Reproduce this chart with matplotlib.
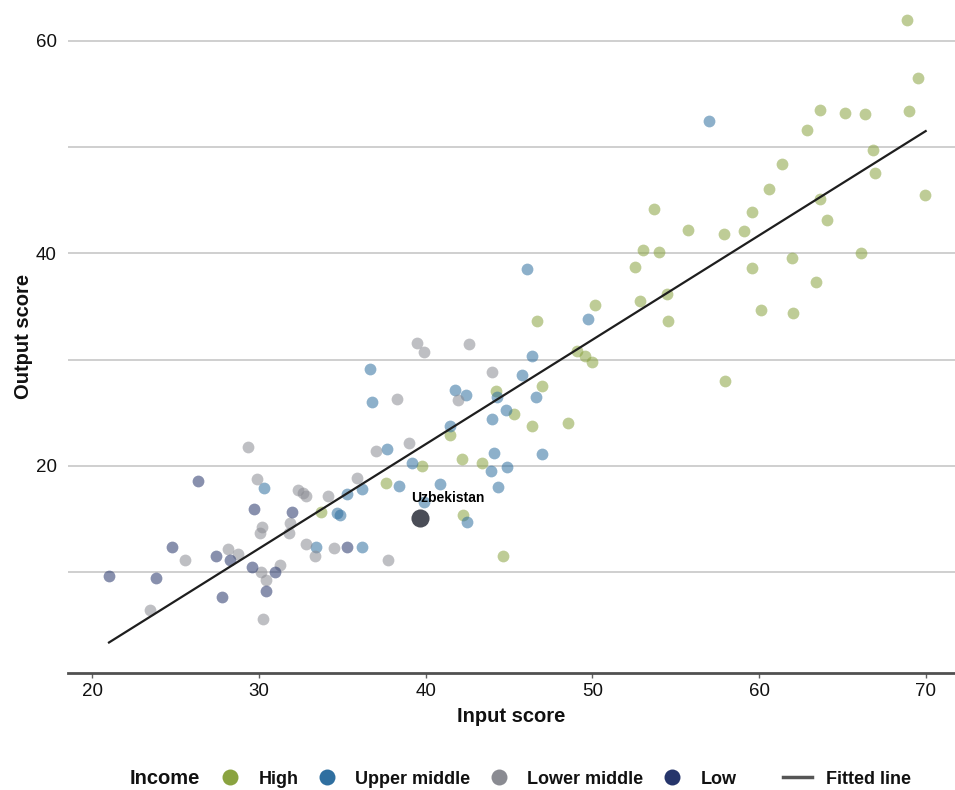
import matplotlib
matplotlib.use("Agg")
import matplotlib.pyplot as plt
from matplotlib.lines import Line2D

plt.rcParams['font.family'] = ['Liberation Sans', 'DejaVu Sans']

# ---- data ----
high_x = [68.86, 69.56, 63.66, 65.16, 66.36, 69.0, 62.9, 66.86, 66.96, 61.36, 60.6, 69.96,
          53.7, 63.66, 59.58, 64.06, 55.75, 57.9, 59.1, 53.05, 54.0, 66.1, 52.55, 59.58,
          61.96, 63.4, 52.85, 54.5, 54.56, 50.15, 60.1, 62.05, 49.05, 49.55, 50.0, 57.95,
          46.65, 44.2, 46.95, 45.3, 46.4, 48.55, 41.45, 42.2, 43.4, 39.75, 37.6, 42.25,
          44.65, 33.74]
high_y = [61.95, 56.5, 53.5, 53.2, 53.1, 53.4, 51.6, 49.7, 47.6, 48.4, 46.05, 45.5,
          44.2, 45.1, 43.85, 43.1, 42.2, 41.8, 42.1, 40.3, 40.1, 40.06, 38.7, 38.6,
          39.6, 37.3, 35.5, 36.2, 33.6, 35.1, 34.7, 34.35, 30.8, 30.3, 29.8, 28.0,
          33.6, 27.06, 27.5, 24.9, 23.8, 24.0, 22.9, 20.7, 20.25, 20.0, 18.4, 15.4,
          11.5, 15.7]

upper_x = [57.0, 46.1, 49.75, 46.35, 45.75, 36.65, 36.78, 41.75, 42.4, 44.25, 46.6, 44.8,
           43.95, 41.45, 37.7, 44.1, 46.95, 39.2, 43.9, 44.85, 38.4, 40.85, 44.35, 30.28,
           35.28, 36.15, 34.65, 34.84, 33.44, 36.15, 42.45, 39.9]
upper_y = [52.45, 38.5, 33.8, 30.3, 28.6, 29.1, 26.0, 27.15, 26.7, 26.5, 26.5, 25.3,
           24.4, 23.8, 21.6, 21.25, 21.1, 20.3, 19.5, 19.95, 18.1, 18.3, 18.05, 17.9,
           17.4, 17.8, 15.6, 15.4, 12.35, 12.35, 14.7, 16.6]

lower_x = [29.34, 37.0, 39.0, 29.9, 32.34, 32.64, 32.84, 34.14, 35.9, 30.2, 30.04, 31.84,
           31.8, 25.54, 28.14, 28.74, 32.8, 33.34, 34.48, 37.74, 30.14, 30.44, 31.24, 23.48,
           30.24, 39.48, 39.88, 42.58, 43.95, 38.28, 41.95]
lower_y = [21.8, 21.4, 22.2, 18.8, 17.7, 17.5, 17.2, 17.2, 18.9, 14.3, 13.7, 14.6,
           13.7, 11.2, 12.2, 11.7, 12.7, 11.5, 12.3, 11.2, 10.05, 9.3, 10.7, 6.45,
           5.6, 31.6, 30.7, 31.45, 28.8, 26.3, 26.2]

low_x = [26.34, 29.68, 32.0, 24.8, 27.44, 28.24, 35.28, 21.0, 23.8, 29.6, 30.94, 27.8, 30.44]
low_y = [18.6, 16.0, 15.7, 12.4, 11.5, 11.2, 12.4, 9.7, 9.5, 10.5, 10.05, 7.65, 8.2]

fit_x = [21.0, 70.0]
fit_y = [3.4, 51.5]

highlight_name = "Uzbekistan"
highlight_x = [39.65]
highlight_y = [15.1]

categories = ["High", "Upper middle", "Lower middle", "Low"]
colors = ["#8aa340", "#2f6fa0", "#8a8b92", "#26356b"]
xticks = [20, 30, 40, 50, 60, 70]
yticks_major = [20, 40, 60]
yticks_minor = [10, 30, 50]

# ---- figure ----
W, H = 955, 790
fig = plt.figure(figsize=(W / 100, H / 100), dpi=100)
ax = fig.add_axes([68 / W, 117 / H, 887 / W, 673 / H])

series = [(high_x, high_y), (upper_x, upper_y), (lower_x, lower_y), (low_x, low_y)]
for (sx, sy), c in zip(series, colors):
    ax.scatter(sx, sy, s=72, color=c, alpha=0.55, linewidths=0, zorder=3)

ax.plot(fit_x, fit_y, color="#1e1e1e", lw=1.6, zorder=4)

ax.scatter(highlight_x, highlight_y, s=170, color="#4a4d57", linewidths=0, zorder=5)
ann = ax.annotate(highlight_name, (highlight_x[0], highlight_y[0]), xytext=(20.5, 14.5),
                  textcoords="offset points", ha="center", va="center",
                  fontsize=10, fontweight="bold", color="black", zorder=6)

ax.set_xlim(18.54, 71.76)
ax.set_ylim(0.53, 63.83)

ax.set_xticks(xticks)
ax.set_xticklabels([str(v) for v in xticks])
ax.set_yticks(yticks_major)
ax.set_yticklabels([str(v) for v in yticks_major])
ax.set_yticks(yticks_minor, minor=True)

ax.grid(axis="y", which="both", color="#cfcfcf", lw=1.4, zorder=0)
ax.set_axisbelow(True)

for s in ["left", "right", "top"]:
    ax.spines[s].set_visible(False)
ax.spines["bottom"].set_color("#505050")
ax.spines["bottom"].set_linewidth(2.0)

ax.tick_params(axis="x", length=3.5, width=1.0, color="#606060", pad=4,
               labelsize=13.5, labelcolor="#111111")
ax.tick_params(axis="y", which="both", length=0, pad=8, labelsize=13.5,
               labelcolor="#111111")

ax.set_xlabel("Input score", fontsize=14.5, fontweight="bold", color="#111111", labelpad=5)
ax.set_ylabel("Output score", fontsize=14.5, fontweight="bold", color="#111111", labelpad=2)

# ---- legend ----
ly = 1 - 779 / H
fig.text(130 / W, ly, "Income", fontsize=14.5, fontweight="bold", color="#111111",
         ha="left", va="center")
handles = [Line2D([0], [0], marker="o", linestyle="none", markersize=11.5,
                  markerfacecolor=c, markeredgewidth=0) for c in colors]
leg1 = fig.legend(handles, categories, loc="center left",
                  bbox_to_anchor=(216 / W, ly), ncol=4, frameon=False,
                  fontsize=13, handlelength=1.6, handletextpad=0.75,
                  columnspacing=0.8, borderpad=0, borderaxespad=0)
for t in leg1.get_texts():
    t.set_fontweight("bold")
    t.set_color("#111111")
line_h = [Line2D([0], [0], color="#555555", lw=2.5)]
leg2 = fig.legend(line_h, ["Fitted line"], loc="center left",
                  bbox_to_anchor=(783 / W, ly), frameon=False, fontsize=13,
                  handlelength=1.6, handletextpad=0.8, borderpad=0, borderaxespad=0)
for t in leg2.get_texts():
    t.set_fontweight("bold")
    t.set_color("#111111")

fig.savefig("out.png", dpi=100)
